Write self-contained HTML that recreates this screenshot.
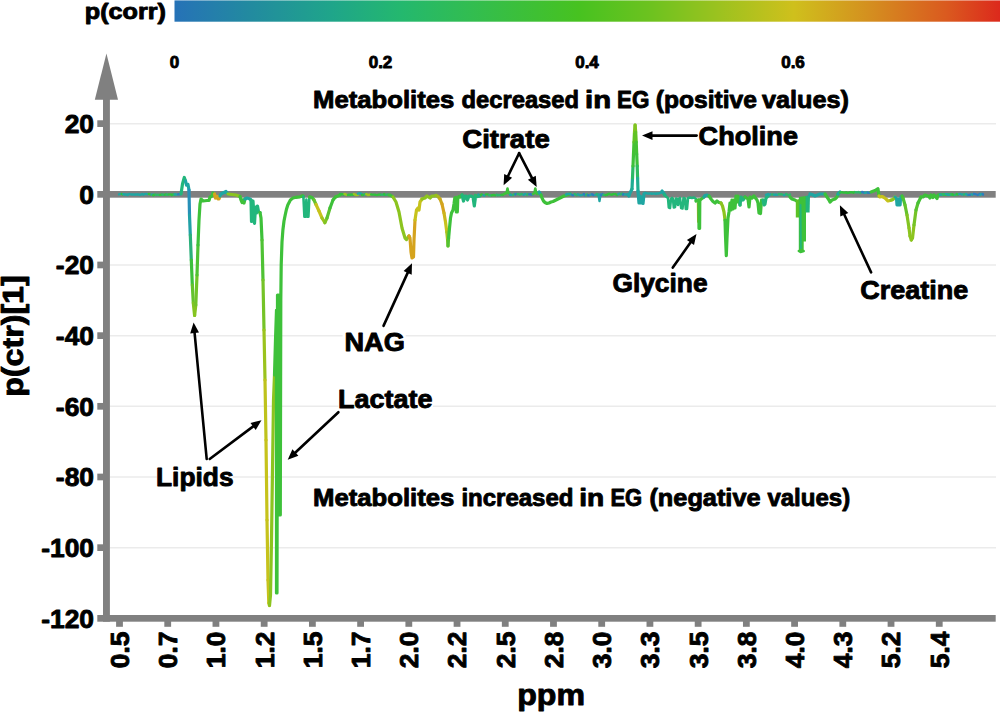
<!DOCTYPE html><html><head><meta charset="utf-8"><style>html,body{margin:0;padding:0;background:#fff;width:1000px;height:713px;overflow:hidden}svg{display:block}text{font-family:"Liberation Sans",sans-serif;font-weight:bold;fill:#000;stroke:#000;stroke-width:0.9px;stroke-linejoin:round}</style></head><body><svg width="1000" height="713" viewBox="0 0 1000 713"><defs><linearGradient id="cb" x1="0" y1="0" x2="1" y2="0"><stop offset="0.0" stop-color="#2672b7"/><stop offset="0.09" stop-color="#228aa0"/><stop offset="0.19" stop-color="#1fa58a"/><stop offset="0.275" stop-color="#24b86e"/><stop offset="0.36" stop-color="#32bd50"/><stop offset="0.49" stop-color="#47c220"/><stop offset="0.575" stop-color="#6cc21f"/><stop offset="0.66" stop-color="#9cc21f"/><stop offset="0.75" stop-color="#cfc01c"/><stop offset="0.84" stop-color="#d4901f"/><stop offset="0.935" stop-color="#da5a1f"/><stop offset="1.0" stop-color="#dc291c"/></linearGradient></defs><rect x="174.5" y="1" width="825.5" height="20.7" fill="url(#cb)"/><rect x="174.5" y="0" width="825.5" height="1" fill="url(#cb)" opacity="0.6"/><line x1="110" y1="123.63" x2="996" y2="123.63" stroke="#ebebeb" stroke-width="1.5"/><line x1="110" y1="264.97" x2="996" y2="264.97" stroke="#ebebeb" stroke-width="1.5"/><line x1="110" y1="335.64" x2="996" y2="335.64" stroke="#ebebeb" stroke-width="1.5"/><line x1="110" y1="406.31" x2="996" y2="406.31" stroke="#ebebeb" stroke-width="1.5"/><line x1="110" y1="476.98" x2="996" y2="476.98" stroke="#ebebeb" stroke-width="1.5"/><line x1="110" y1="547.65" x2="996" y2="547.65" stroke="#ebebeb" stroke-width="1.5"/><rect x="342.6" y="329" width="63.1" height="27" fill="#fff"/><rect x="338.4" y="386" width="94.6" height="26" fill="#fff"/><rect x="156.8" y="463" width="75.8" height="32" fill="#fff"/><rect x="97.3" y="191" width="898.4" height="6.7" fill="#808080"/><rect x="97.3" y="615" width="898.4" height="6.7" fill="#808080"/><rect x="103" y="99" width="6.9" height="522.7" fill="#808080"/><polygon points="106.45,53.4 94.8,99.8 118.0,99.8" fill="#808080"/><rect x="97.3" y="120.28" width="6" height="6.7" fill="#808080"/><rect x="97.3" y="261.62" width="6" height="6.7" fill="#808080"/><rect x="97.3" y="332.29" width="6" height="6.7" fill="#808080"/><rect x="97.3" y="402.96" width="6" height="6.7" fill="#808080"/><rect x="97.3" y="473.63" width="6" height="6.7" fill="#808080"/><rect x="97.3" y="544.30" width="6" height="6.7" fill="#808080"/><rect x="116.10" y="621" width="6.8" height="5.8" fill="#808080"/><rect x="164.32" y="621" width="6.8" height="5.8" fill="#808080"/><rect x="212.54" y="621" width="6.8" height="5.8" fill="#808080"/><rect x="260.76" y="621" width="6.8" height="5.8" fill="#808080"/><rect x="308.98" y="621" width="6.8" height="5.8" fill="#808080"/><rect x="357.20" y="621" width="6.8" height="5.8" fill="#808080"/><rect x="405.42" y="621" width="6.8" height="5.8" fill="#808080"/><rect x="453.64" y="621" width="6.8" height="5.8" fill="#808080"/><rect x="501.86" y="621" width="6.8" height="5.8" fill="#808080"/><rect x="550.08" y="621" width="6.8" height="5.8" fill="#808080"/><rect x="598.30" y="621" width="6.8" height="5.8" fill="#808080"/><rect x="646.52" y="621" width="6.8" height="5.8" fill="#808080"/><rect x="694.74" y="621" width="6.8" height="5.8" fill="#808080"/><rect x="742.96" y="621" width="6.8" height="5.8" fill="#808080"/><rect x="791.18" y="621" width="6.8" height="5.8" fill="#808080"/><rect x="839.40" y="621" width="6.8" height="5.8" fill="#808080"/><rect x="887.62" y="621" width="6.8" height="5.8" fill="#808080"/><rect x="935.84" y="621" width="6.8" height="5.8" fill="#808080"/><line x1="119.0" y1="194.3" x2="120.3" y2="193.9" stroke="#1fa7a4" stroke-width="2.4" stroke-linecap="round"/><line x1="121.7" y1="193.9" x2="122.6" y2="194.4" stroke="#30c23c" stroke-width="2.4" stroke-linecap="round"/><line x1="123.2" y1="194.1" x2="124.7" y2="194.5" stroke="#1fa7a4" stroke-width="2.4" stroke-linecap="round"/><line x1="125.3" y1="194.6" x2="126.9" y2="194.5" stroke="#1fa7a4" stroke-width="2.4" stroke-linecap="round"/><line x1="127.6" y1="195.0" x2="129.2" y2="193.9" stroke="#1fa7a4" stroke-width="2.4" stroke-linecap="round"/><line x1="130.6" y1="194.4" x2="131.8" y2="194.5" stroke="#1fa7a4" stroke-width="2.4" stroke-linecap="round"/><line x1="133.0" y1="194.5" x2="134.8" y2="194.6" stroke="#1fa7a4" stroke-width="2.4" stroke-linecap="round"/><line x1="135.7" y1="194.5" x2="137.3" y2="194.5" stroke="#1fa7a4" stroke-width="2.4" stroke-linecap="round"/><line x1="138.4" y1="194.4" x2="139.9" y2="194.9" stroke="#1fa7a4" stroke-width="2.4" stroke-linecap="round"/><line x1="140.9" y1="194.6" x2="142.1" y2="194.1" stroke="#1fa7a4" stroke-width="2.4" stroke-linecap="round"/><line x1="143.2" y1="194.7" x2="144.8" y2="194.1" stroke="#1fa7a4" stroke-width="2.4" stroke-linecap="round"/><line x1="146.3" y1="194.0" x2="147.3" y2="194.2" stroke="#1fa7a4" stroke-width="2.4" stroke-linecap="round"/><line x1="148.8" y1="193.9" x2="150.2" y2="194.5" stroke="#30c23c" stroke-width="2.4" stroke-linecap="round"/><line x1="151.6" y1="194.6" x2="153.0" y2="194.5" stroke="#1fa7a4" stroke-width="2.4" stroke-linecap="round"/><line x1="153.0" y1="195.3" x2="154.4" y2="194.8" stroke="#30c23c" stroke-width="2.4" stroke-linecap="round"/><line x1="155.7" y1="194.6" x2="156.6" y2="194.9" stroke="#2cb86c" stroke-width="2.4" stroke-linecap="round"/><line x1="157.9" y1="194.7" x2="159.3" y2="195.0" stroke="#2cb86c" stroke-width="2.4" stroke-linecap="round"/><line x1="159.9" y1="194.9" x2="161.4" y2="194.8" stroke="#30c23c" stroke-width="2.4" stroke-linecap="round"/><line x1="162.2" y1="194.5" x2="163.4" y2="194.7" stroke="#2cb86c" stroke-width="2.4" stroke-linecap="round"/><line x1="164.9" y1="194.7" x2="165.8" y2="194.5" stroke="#30c23c" stroke-width="2.4" stroke-linecap="round"/><line x1="166.5" y1="194.5" x2="167.9" y2="194.7" stroke="#2cb86c" stroke-width="2.4" stroke-linecap="round"/><line x1="168.9" y1="194.4" x2="170.9" y2="194.4" stroke="#30c23c" stroke-width="2.4" stroke-linecap="round"/><line x1="171.7" y1="195.2" x2="172.9" y2="194.4" stroke="#30c23c" stroke-width="2.4" stroke-linecap="round"/><line x1="173.7" y1="194.6" x2="174.7" y2="194.9" stroke="#2cb86c" stroke-width="2.4" stroke-linecap="round"/><line x1="175.0" y1="194.2" x2="176.8" y2="194.7" stroke="#1fa7a4" stroke-width="2.4" stroke-linecap="round"/><line x1="178.3" y1="194.2" x2="180.1" y2="194.2" stroke="#2a7fc0" stroke-width="2.4" stroke-linecap="round"/><polyline points="181.0,194.0 182.5,184.0 184.3,177.5 185.5,181.0" fill="none" stroke="#22b67c" stroke-width="3.2" stroke-linejoin="round" stroke-linecap="round"/><polyline points="185.5,181.0 186.5,185.0 188.0,184.5 189.0,190.0" fill="none" stroke="#1fa6a2" stroke-width="3.2" stroke-linejoin="round" stroke-linecap="round"/><line x1="189.0" y1="190.0" x2="189.5" y2="215.0" stroke="#2790b8" stroke-width="3.2" stroke-linecap="round"/><line x1="189.5" y1="215.0" x2="190.3" y2="235.0" stroke="#21a1a7" stroke-width="3.2" stroke-linecap="round"/><line x1="190.3" y1="235.0" x2="191.3" y2="260.0" stroke="#2bb07b" stroke-width="3.2" stroke-linecap="round"/><line x1="191.3" y1="260.0" x2="192.3" y2="285.0" stroke="#3dc03d" stroke-width="3.2" stroke-linecap="round"/><line x1="192.3" y1="285.0" x2="193.3" y2="303.0" stroke="#64c22d" stroke-width="3.2" stroke-linecap="round"/><line x1="193.3" y1="303.0" x2="194.6" y2="315.5" stroke="#80c423" stroke-width="3.2" stroke-linecap="round"/><line x1="194.6" y1="315.5" x2="195.8" y2="305.0" stroke="#86c421" stroke-width="3.2" stroke-linecap="round"/><line x1="195.8" y1="305.0" x2="197.0" y2="275.0" stroke="#70c329" stroke-width="3.2" stroke-linecap="round"/><line x1="197.0" y1="275.0" x2="198.0" y2="245.0" stroke="#4fc234" stroke-width="3.2" stroke-linecap="round"/><polyline points="198.0,245.0 199.0,220.0 200.0,204.0 201.0,199.0 203.0,201.0 207.0,200.5 209.0,200.5 210.0,197.0 212.0,196.0 213.0,193.0 214.5,194.0" fill="none" stroke="#3ec13a" stroke-width="3.2" stroke-linejoin="round" stroke-linecap="round"/><polyline points="214.5,194.0 215.5,198.0 217.0,196.5 218.0,199.0 219.0,199.0 220.0,196.0" fill="none" stroke="#d5a31d" stroke-width="3.2" stroke-linejoin="round" stroke-linecap="round"/><polyline points="220.0,196.0 221.0,194.0 223.0,193.0 226.0,191.5 228.0,194.0" fill="none" stroke="#1fa6a2" stroke-width="3.2" stroke-linejoin="round" stroke-linecap="round"/><polyline points="228.0,194.0 232.0,194.5 236.0,195.0 240.0,196.5" fill="none" stroke="#8cc41f" stroke-width="3.2" stroke-linejoin="round" stroke-linecap="round"/><polyline points="240.0,196.5 241.0,200.0 242.0,202.5 243.0,200.0 244.0,203.0 245.0,199.0" fill="none" stroke="#3ec13a" stroke-width="3.2" stroke-linejoin="round" stroke-linecap="round"/><polyline points="245.0,199.0 247.0,198.0 250.0,199.0 251.0,200.0" fill="none" stroke="#1fa6a2" stroke-width="3.2" stroke-linejoin="round" stroke-linecap="round"/><polyline points="251.0,200.0 251.5,221.5 252.5,201.0 253.0,201.0 254.5,223.5 255.5,207.0 256.5,213.0 257.5,206.0 258.5,211.5 260.0,212.5" fill="none" stroke="#22b67c" stroke-width="3.2" stroke-linejoin="round" stroke-linecap="round"/><polyline points="260.0,212.5 261.0,218.0 262.0,240.0" fill="none" stroke="#3ec13a" stroke-width="3.2" stroke-linejoin="round" stroke-linecap="round"/><line x1="262.0" y1="240.0" x2="263.0" y2="280.0" stroke="#4fc234" stroke-width="3.2" stroke-linecap="round"/><line x1="263.0" y1="280.0" x2="264.0" y2="330.0" stroke="#75c327" stroke-width="3.2" stroke-linecap="round"/><line x1="264.0" y1="330.0" x2="265.0" y2="380.0" stroke="#9bc31e" stroke-width="3.2" stroke-linecap="round"/><line x1="265.0" y1="380.0" x2="266.0" y2="440.0" stroke="#bec21c" stroke-width="3.2" stroke-linecap="round"/><line x1="266.0" y1="440.0" x2="267.0" y2="520.0" stroke="#c6c21c" stroke-width="3.2" stroke-linecap="round"/><line x1="267.0" y1="520.0" x2="268.0" y2="580.0" stroke="#c6c21c" stroke-width="3.2" stroke-linecap="round"/><line x1="268.0" y1="580.0" x2="268.8" y2="603.0" stroke="#c6c21c" stroke-width="3.2" stroke-linecap="round"/><line x1="268.8" y1="603.0" x2="269.5" y2="605.5" stroke="#c6c21c" stroke-width="3.2" stroke-linecap="round"/><polyline points="269.5,605.5 270.5,595.0 271.5,540.0 272.5,470.0 273.5,400.0 274.5,375.0" fill="none" stroke="#8cc41f" stroke-width="3.2" stroke-linejoin="round" stroke-linecap="round"/><polyline points="274.5,375.0 275.5,340.0 276.5,310.0 276.5,593.0 277.0,593.0 277.5,295.0 278.5,295.0 279.2,515.0 280.3,515.0 280.8,300.0 281.2,265.0 282.0,242.0 282.9,230.0 284.0,221.0 285.2,215.0 286.4,209.5 287.8,205.0 290.4,200.0 293.0,198.0 296.0,197.3 300.0,196.8 302.5,196.0" fill="none" stroke="#3ec13a" stroke-width="3.2" stroke-linejoin="round" stroke-linecap="round"/><polygon points="276.8,300.0 278.6,295.0 280.6,300.0 280.4,515.0 279.2,515.0 276.8,400.0" fill="#3ec13a"/><polyline points="302.5,196.0 303.4,196.5" fill="none" stroke="#3ec13a" stroke-width="3.2" stroke-linejoin="round" stroke-linecap="round"/><polyline points="303.4,196.5 304.4,216.8 305.3,216.8 306.4,199.5 307.3,216.8 308.4,216.8 309.4,197.0" fill="none" stroke="#22b67c" stroke-width="2.6" stroke-linejoin="round" stroke-linecap="round"/><polyline points="309.4,197.0 310.2,197.0" fill="none" stroke="#3ec13a" stroke-width="3.2" stroke-linejoin="round" stroke-linecap="round"/><polyline points="310.2,197.0 312.0,197.5 314.0,200.0" fill="none" stroke="#3ec13a" stroke-width="3.2" stroke-linejoin="round" stroke-linecap="round"/><line x1="314.0" y1="200.0" x2="316.0" y2="204.5" stroke="#66c131" stroke-width="3.2" stroke-linecap="round"/><line x1="316.0" y1="204.5" x2="319.0" y2="211.0" stroke="#c6c21c" stroke-width="3.2" stroke-linecap="round"/><line x1="319.0" y1="211.0" x2="322.0" y2="218.0" stroke="#c6c21c" stroke-width="3.2" stroke-linecap="round"/><line x1="322.0" y1="218.0" x2="324.9" y2="222.7" stroke="#9fc31e" stroke-width="3.2" stroke-linecap="round"/><line x1="324.9" y1="222.7" x2="327.0" y2="218.0" stroke="#80c423" stroke-width="3.2" stroke-linecap="round"/><line x1="327.0" y1="218.0" x2="330.0" y2="208.0" stroke="#5bc230" stroke-width="3.2" stroke-linecap="round"/><line x1="330.0" y1="208.0" x2="333.0" y2="200.0" stroke="#3ec13a" stroke-width="3.2" stroke-linecap="round"/><line x1="333.0" y1="200.0" x2="335.5" y2="197.0" stroke="#3ec13a" stroke-width="3.2" stroke-linecap="round"/><line x1="335.5" y1="197.0" x2="340.0" y2="195.0" stroke="#3ec13a" stroke-width="3.2" stroke-linecap="round"/><line x1="340.0" y1="194.0" x2="341.4" y2="194.2" stroke="#30c23c" stroke-width="2.4" stroke-linecap="round"/><line x1="342.1" y1="194.0" x2="343.4" y2="194.6" stroke="#30c23c" stroke-width="2.4" stroke-linecap="round"/><line x1="344.5" y1="193.9" x2="346.7" y2="194.9" stroke="#9cc41e" stroke-width="2.4" stroke-linecap="round"/><line x1="347.9" y1="195.0" x2="348.9" y2="194.6" stroke="#30c23c" stroke-width="2.4" stroke-linecap="round"/><line x1="350.0" y1="195.1" x2="350.9" y2="194.5" stroke="#30c23c" stroke-width="2.4" stroke-linecap="round"/><line x1="352.0" y1="194.8" x2="352.9" y2="194.8" stroke="#30c23c" stroke-width="2.4" stroke-linecap="round"/><line x1="354.0" y1="193.9" x2="355.8" y2="195.0" stroke="#9cc41e" stroke-width="2.4" stroke-linecap="round"/><line x1="356.9" y1="195.0" x2="357.9" y2="194.8" stroke="#9cc41e" stroke-width="2.4" stroke-linecap="round"/><line x1="358.0" y1="193.7" x2="359.7" y2="193.2" stroke="#1fa7a4" stroke-width="2.4" stroke-linecap="round"/><line x1="360.7" y1="193.5" x2="361.7" y2="193.8" stroke="#1fa7a4" stroke-width="2.4" stroke-linecap="round"/><line x1="362.0" y1="195.0" x2="363.1" y2="195.0" stroke="#30c23c" stroke-width="2.4" stroke-linecap="round"/><line x1="364.5" y1="194.4" x2="365.6" y2="194.0" stroke="#2cb86c" stroke-width="2.4" stroke-linecap="round"/><line x1="366.2" y1="194.2" x2="367.4" y2="194.7" stroke="#9cc41e" stroke-width="2.4" stroke-linecap="round"/><line x1="368.3" y1="195.1" x2="370.3" y2="194.4" stroke="#9cc41e" stroke-width="2.4" stroke-linecap="round"/><line x1="371.1" y1="194.4" x2="372.2" y2="194.6" stroke="#30c23c" stroke-width="2.4" stroke-linecap="round"/><line x1="373.8" y1="194.6" x2="375.4" y2="194.8" stroke="#30c23c" stroke-width="2.4" stroke-linecap="round"/><line x1="376.8" y1="195.1" x2="377.8" y2="194.9" stroke="#30c23c" stroke-width="2.4" stroke-linecap="round"/><line x1="379.1" y1="194.5" x2="380.6" y2="194.8" stroke="#30c23c" stroke-width="2.4" stroke-linecap="round"/><line x1="381.3" y1="194.6" x2="383.4" y2="194.9" stroke="#2cb86c" stroke-width="2.4" stroke-linecap="round"/><line x1="384.1" y1="194.0" x2="385.1" y2="194.7" stroke="#30c23c" stroke-width="2.4" stroke-linecap="round"/><line x1="386.2" y1="194.8" x2="387.9" y2="194.4" stroke="#2cb86c" stroke-width="2.4" stroke-linecap="round"/><line x1="389.0" y1="195.0" x2="390.0" y2="194.9" stroke="#30c23c" stroke-width="2.4" stroke-linecap="round"/><polyline points="389.0,195.0 390.0,195.0 393.0,197.0" fill="none" stroke="#3ec13a" stroke-width="3.2" stroke-linejoin="round" stroke-linecap="round"/><polyline points="393.0,197.0 396.0,202.0 399.0,212.0 402.0,228.0 405.0,238.0 406.5,239.5 409.0,236.0" fill="none" stroke="#8cc41f" stroke-width="3.2" stroke-linejoin="round" stroke-linecap="round"/><polyline points="409.0,236.0 410.0,238.0 411.0,252.0 412.0,258.0 413.5,257.0 414.0,240.0 415.0,220.0" fill="none" stroke="#d5a31d" stroke-width="3.2" stroke-linejoin="round" stroke-linecap="round"/><polyline points="415.0,220.0 416.5,210.0 418.0,208.0 419.0,210.0 420.0,202.0 422.0,199.0" fill="none" stroke="#c6c21c" stroke-width="3.2" stroke-linejoin="round" stroke-linecap="round"/><polyline points="422.0,199.0 425.0,198.0 427.0,196.0 430.0,198.0 432.0,196.0 434.0,196.0 436.0,195.5" fill="none" stroke="#8cc41f" stroke-width="3.2" stroke-linejoin="round" stroke-linecap="round"/><line x1="436.0" y1="195.5" x2="438.0" y2="196.5" stroke="#95c01f" stroke-width="3.2" stroke-linecap="round"/><line x1="438.0" y1="196.5" x2="440.0" y2="199.0" stroke="#aab71e" stroke-width="3.2" stroke-linecap="round"/><line x1="440.0" y1="199.0" x2="442.0" y2="204.0" stroke="#cba81d" stroke-width="3.2" stroke-linecap="round"/><line x1="442.0" y1="204.0" x2="444.0" y2="213.0" stroke="#d5a31d" stroke-width="3.2" stroke-linecap="round"/><line x1="444.0" y1="213.0" x2="445.5" y2="222.0" stroke="#ccb61c" stroke-width="3.2" stroke-linecap="round"/><line x1="445.5" y1="222.0" x2="446.8" y2="232.0" stroke="#c6c21c" stroke-width="3.2" stroke-linecap="round"/><line x1="446.8" y1="232.0" x2="447.6" y2="240.0" stroke="#a5c31e" stroke-width="3.2" stroke-linecap="round"/><line x1="447.6" y1="240.0" x2="448.0" y2="246.0" stroke="#7bc325" stroke-width="3.2" stroke-linecap="round"/><line x1="448.0" y1="246.0" x2="448.6" y2="238.0" stroke="#54c232" stroke-width="3.2" stroke-linecap="round"/><polyline points="448.6,238.0 449.5,228.0 450.5,218.0 451.5,213.0 453.0,210.0 454.0,204.0 454.8,198.0 455.8,197.5 456.3,212.0 457.3,212.0 457.8,198.0 459.0,196.5 460.0,197.0 462.0,195.0" fill="none" stroke="#3ec13a" stroke-width="3.2" stroke-linejoin="round" stroke-linecap="round"/><polyline points="462.0,195.0 463.5,201.0 465.0,196.0 466.0,196.0 467.5,200.0 469.0,196.0 471.0,196.0 473.0,197.0 474.3,206.0 475.5,197.0 480.0,196.0" fill="none" stroke="#22b67c" stroke-width="3.2" stroke-linejoin="round" stroke-linecap="round"/><line x1="475.0" y1="194.9" x2="476.8" y2="195.6" stroke="#2cb86c" stroke-width="2.4" stroke-linecap="round"/><line x1="478.3" y1="194.5" x2="479.4" y2="195.0" stroke="#1fa7a4" stroke-width="2.4" stroke-linecap="round"/><line x1="480.7" y1="194.9" x2="482.0" y2="194.4" stroke="#30c23c" stroke-width="2.4" stroke-linecap="round"/><line x1="483.5" y1="195.3" x2="484.8" y2="195.5" stroke="#1fa7a4" stroke-width="2.4" stroke-linecap="round"/><line x1="485.9" y1="194.4" x2="487.9" y2="194.4" stroke="#30c23c" stroke-width="2.4" stroke-linecap="round"/><line x1="489.0" y1="195.2" x2="491.0" y2="195.4" stroke="#2cb86c" stroke-width="2.4" stroke-linecap="round"/><line x1="491.8" y1="195.4" x2="492.8" y2="195.1" stroke="#30c23c" stroke-width="2.4" stroke-linecap="round"/><line x1="493.7" y1="195.0" x2="495.2" y2="195.4" stroke="#30c23c" stroke-width="2.4" stroke-linecap="round"/><line x1="496.7" y1="194.6" x2="497.6" y2="195.4" stroke="#2cb86c" stroke-width="2.4" stroke-linecap="round"/><line x1="498.7" y1="194.9" x2="500.3" y2="195.2" stroke="#2cb86c" stroke-width="2.4" stroke-linecap="round"/><line x1="501.4" y1="194.6" x2="502.9" y2="195.0" stroke="#30c23c" stroke-width="2.4" stroke-linecap="round"/><polyline points="504.0,194.0 506.5,193.0 507.5,188.5 508.5,193.0 510.0,194.0" fill="none" stroke="#3ec13a" stroke-width="2.6" stroke-linejoin="round" stroke-linecap="round"/><line x1="510.0" y1="194.8" x2="511.5" y2="195.0" stroke="#1fa7a4" stroke-width="2.4" stroke-linecap="round"/><line x1="513.1" y1="195.0" x2="514.2" y2="194.1" stroke="#2cb86c" stroke-width="2.4" stroke-linecap="round"/><line x1="515.3" y1="194.4" x2="516.6" y2="193.9" stroke="#2a7fc0" stroke-width="2.4" stroke-linecap="round"/><line x1="517.5" y1="194.2" x2="518.4" y2="194.0" stroke="#2cb86c" stroke-width="2.4" stroke-linecap="round"/><line x1="519.8" y1="194.7" x2="521.9" y2="194.0" stroke="#2cb86c" stroke-width="2.4" stroke-linecap="round"/><line x1="523.4" y1="194.8" x2="525.5" y2="193.9" stroke="#1fa7a4" stroke-width="2.4" stroke-linecap="round"/><line x1="527.0" y1="195.0" x2="528.0" y2="194.0" stroke="#2cb86c" stroke-width="2.4" stroke-linecap="round"/><line x1="529.1" y1="194.4" x2="530.6" y2="194.3" stroke="#2a7fc0" stroke-width="2.4" stroke-linecap="round"/><line x1="531.3" y1="194.6" x2="532.6" y2="194.4" stroke="#2a7fc0" stroke-width="2.4" stroke-linecap="round"/><polyline points="533.0,194.0 534.5,193.0 535.3,188.5 536.2,193.0 537.0,194.0 539.0,193.0" fill="none" stroke="#3ec13a" stroke-width="2.6" stroke-linejoin="round" stroke-linecap="round"/><polyline points="539.0,192.0 541.0,195.0" fill="none" stroke="#1fa6a2" stroke-width="3.2" stroke-linejoin="round" stroke-linecap="round"/><polyline points="541.0,195.0 542.0,198.0 543.5,201.0 545.0,202.5 547.0,203.5 549.0,203.0 551.0,202.0 553.0,201.5 555.0,200.5 558.0,199.0 561.0,197.5 564.0,196.0 567.0,195.0 570.0,194.0" fill="none" stroke="#3ec13a" stroke-width="3.2" stroke-linejoin="round" stroke-linecap="round"/><line x1="566.0" y1="194.6" x2="567.3" y2="193.9" stroke="#1fa7a4" stroke-width="2.4" stroke-linecap="round"/><line x1="568.8" y1="193.9" x2="570.8" y2="194.2" stroke="#1fa7a4" stroke-width="2.4" stroke-linecap="round"/><line x1="572.3" y1="195.1" x2="573.3" y2="195.2" stroke="#2a7fc0" stroke-width="2.4" stroke-linecap="round"/><line x1="574.6" y1="194.0" x2="576.7" y2="195.3" stroke="#2cb86c" stroke-width="2.4" stroke-linecap="round"/><line x1="577.9" y1="194.2" x2="579.7" y2="195.1" stroke="#1fa7a4" stroke-width="2.4" stroke-linecap="round"/><line x1="580.4" y1="195.3" x2="582.5" y2="194.8" stroke="#1fa7a4" stroke-width="2.4" stroke-linecap="round"/><line x1="583.9" y1="193.9" x2="584.8" y2="195.2" stroke="#2a7fc0" stroke-width="2.4" stroke-linecap="round"/><line x1="585.9" y1="195.3" x2="587.1" y2="194.2" stroke="#2cb86c" stroke-width="2.4" stroke-linecap="round"/><line x1="587.9" y1="195.3" x2="589.4" y2="195.4" stroke="#2a7fc0" stroke-width="2.4" stroke-linecap="round"/><line x1="590.3" y1="194.8" x2="591.3" y2="194.6" stroke="#1fa7a4" stroke-width="2.4" stroke-linecap="round"/><line x1="592.1" y1="194.2" x2="593.6" y2="195.1" stroke="#2a7fc0" stroke-width="2.4" stroke-linecap="round"/><line x1="595.2" y1="195.0" x2="596.0" y2="194.7" stroke="#1fa7a4" stroke-width="2.4" stroke-linecap="round"/><line x1="596.8" y1="194.0" x2="598.0" y2="195.1" stroke="#2cb86c" stroke-width="2.4" stroke-linecap="round"/><polyline points="598.5,194.5 599.5,201.0 600.5,194.5" fill="none" stroke="#1fa6a2" stroke-width="2.4" stroke-linejoin="round" stroke-linecap="round"/><line x1="601.0" y1="195.2" x2="602.5" y2="194.1" stroke="#2a7fc0" stroke-width="2.4" stroke-linecap="round"/><line x1="603.3" y1="194.9" x2="604.4" y2="194.7" stroke="#2cb86c" stroke-width="2.4" stroke-linecap="round"/><line x1="605.7" y1="195.2" x2="607.0" y2="194.9" stroke="#30c23c" stroke-width="2.4" stroke-linecap="round"/><line x1="607.6" y1="194.3" x2="609.3" y2="193.7" stroke="#30c23c" stroke-width="2.4" stroke-linecap="round"/><line x1="610.6" y1="194.6" x2="611.9" y2="194.7" stroke="#30c23c" stroke-width="2.4" stroke-linecap="round"/><line x1="612.6" y1="194.3" x2="613.6" y2="194.0" stroke="#30c23c" stroke-width="2.4" stroke-linecap="round"/><line x1="615.2" y1="194.0" x2="617.3" y2="195.1" stroke="#30c23c" stroke-width="2.4" stroke-linecap="round"/><line x1="618.3" y1="194.1" x2="619.6" y2="193.7" stroke="#1fa7a4" stroke-width="2.4" stroke-linecap="round"/><line x1="620.4" y1="194.4" x2="622.2" y2="193.6" stroke="#2cb86c" stroke-width="2.4" stroke-linecap="round"/><line x1="623.0" y1="194.5" x2="623.9" y2="194.2" stroke="#2a7fc0" stroke-width="2.4" stroke-linecap="round"/><line x1="624.8" y1="194.5" x2="626.5" y2="194.4" stroke="#1fa7a4" stroke-width="2.4" stroke-linecap="round"/><line x1="627.9" y1="194.8" x2="628.0" y2="194.8" stroke="#2a7fc0" stroke-width="2.4" stroke-linecap="round"/><polyline points="628.0,194.5 629.0,196.0 630.0,193.0 632.0,189.0" fill="none" stroke="#1fa6a2" stroke-width="3.2" stroke-linejoin="round" stroke-linecap="round"/><line x1="632.0" y1="189.0" x2="632.5" y2="178.0" stroke="#20ad92" stroke-width="3.2" stroke-linecap="round"/><line x1="632.5" y1="178.0" x2="633.0" y2="166.0" stroke="#2bba66" stroke-width="3.2" stroke-linecap="round"/><line x1="633.0" y1="166.0" x2="633.5" y2="154.0" stroke="#3ec13a" stroke-width="3.2" stroke-linecap="round"/><line x1="633.5" y1="154.0" x2="634.0" y2="142.0" stroke="#44c135" stroke-width="3.2" stroke-linecap="round"/><line x1="634.0" y1="142.0" x2="634.5" y2="132.0" stroke="#60c224" stroke-width="3.2" stroke-linecap="round"/><line x1="634.5" y1="132.0" x2="635.1" y2="125.2" stroke="#7fc320" stroke-width="3.2" stroke-linecap="round"/><line x1="635.1" y1="125.2" x2="635.7" y2="132.0" stroke="#80c320" stroke-width="3.2" stroke-linecap="round"/><line x1="635.7" y1="132.0" x2="636.2" y2="142.0" stroke="#61c223" stroke-width="3.2" stroke-linecap="round"/><line x1="636.2" y1="142.0" x2="636.7" y2="154.0" stroke="#46c134" stroke-width="3.2" stroke-linecap="round"/><line x1="636.7" y1="154.0" x2="637.2" y2="166.0" stroke="#3ec13a" stroke-width="3.2" stroke-linecap="round"/><line x1="637.2" y1="166.0" x2="637.6" y2="178.0" stroke="#2ebb5f" stroke-width="3.2" stroke-linecap="round"/><line x1="637.6" y1="178.0" x2="638.0" y2="191.0" stroke="#20ae8f" stroke-width="3.2" stroke-linecap="round"/><polyline points="638.0,191.0 639.0,203.0 640.0,196.0 641.0,203.0 642.0,197.0 643.0,203.5 644.0,194.0" fill="none" stroke="#1fa6a2" stroke-width="3.2" stroke-linejoin="round" stroke-linecap="round"/><line x1="644.0" y1="193.5" x2="645.2" y2="192.7" stroke="#1fa7a4" stroke-width="2.4" stroke-linecap="round"/><line x1="646.6" y1="193.2" x2="648.7" y2="193.6" stroke="#1fa7a4" stroke-width="2.4" stroke-linecap="round"/><line x1="649.8" y1="193.4" x2="651.9" y2="193.7" stroke="#1fa7a4" stroke-width="2.4" stroke-linecap="round"/><line x1="652.5" y1="193.6" x2="654.2" y2="193.6" stroke="#1fa7a4" stroke-width="2.4" stroke-linecap="round"/><line x1="655.1" y1="193.5" x2="655.9" y2="193.9" stroke="#1fa7a4" stroke-width="2.4" stroke-linecap="round"/><line x1="656.9" y1="193.5" x2="658.3" y2="193.5" stroke="#1fa7a4" stroke-width="2.4" stroke-linecap="round"/><line x1="659.6" y1="193.2" x2="661.1" y2="192.7" stroke="#1fa7a4" stroke-width="2.4" stroke-linecap="round"/><polyline points="662.0,191.0 665.0,195.0" fill="none" stroke="#1fa6a2" stroke-width="3.2" stroke-linejoin="round" stroke-linecap="round"/><polyline points="664.0,194.5 666.0,196.5 668.0,198.0 668.8,207.5 670.0,208.0 671.0,199.0 672.0,198.0 673.0,199.0 673.8,207.5 675.0,207.0 676.0,198.5 677.0,199.0 678.0,205.0 678.8,199.0 680.0,198.0 681.2,208.0 682.5,208.5 683.5,198.0 685.0,198.5 685.8,209.0 687.0,209.0 688.0,198.0 690.0,197.5 692.0,198.0 694.0,197.5 696.0,199.0 696.0,201.0" fill="none" stroke="#22b67c" stroke-width="2.6" stroke-linejoin="round" stroke-linecap="round"/><polyline points="696.0,201.0 698.3,200.0" fill="none" stroke="#3ec13a" stroke-width="3.2" stroke-linejoin="round" stroke-linecap="round"/><polyline points="697.6,203.0 697.8,222.0" fill="none" stroke="#d5a31d" stroke-width="1.6" stroke-linejoin="round" stroke-linecap="round"/><polyline points="698.6,200.0 698.8,228.5 699.8,228.5 700.0,200.0" fill="none" stroke="#3ec13a" stroke-width="2.8" stroke-linejoin="round" stroke-linecap="round"/><polyline points="700.0,200.0 702.0,198.5 704.0,197.0" fill="none" stroke="#3ec13a" stroke-width="3.2" stroke-linejoin="round" stroke-linecap="round"/><polyline points="704.0,197.0 705.0,195.5 707.0,195.0 709.0,196.0" fill="none" stroke="#1fa6a2" stroke-width="3.2" stroke-linejoin="round" stroke-linecap="round"/><polyline points="709.0,196.0 711.0,199.0 713.0,201.5 715.0,203.0 717.0,201.0 719.0,202.5 721.0,203.0" fill="none" stroke="#3ec13a" stroke-width="3.2" stroke-linejoin="round" stroke-linecap="round"/><polyline points="721.0,203.0 722.5,206.0 724.0,212.0 725.0,220.0" fill="none" stroke="#8cc41f" stroke-width="3.2" stroke-linejoin="round" stroke-linecap="round"/><polyline points="725.0,220.0 725.5,236.0 726.3,255.7 727.0,238.0 728.0,218.0 729.0,212.0 730.0,203.0 731.0,210.0 732.0,200.0 733.0,209.0 734.0,200.0 735.0,208.0 736.0,196.0 737.0,202.0 738.0,196.0 740.0,205.0" fill="none" stroke="#3ec13a" stroke-width="3.2" stroke-linejoin="round" stroke-linecap="round"/><polyline points="740.0,205.0 741.0,197.0 743.0,200.0 745.0,197.0" fill="none" stroke="#22b67c" stroke-width="3.2" stroke-linejoin="round" stroke-linecap="round"/><polyline points="745.0,197.0 748.0,199.0 749.0,207.0 750.0,197.0 752.0,198.0 754.0,196.0 757.0,200.0 758.0,203.0 759.0,213.0 760.5,213.5 761.5,200.0 763.0,200.0" fill="none" stroke="#3ec13a" stroke-width="3.2" stroke-linejoin="round" stroke-linecap="round"/><polyline points="763.0,200.0 764.0,205.0 765.0,204.0 766.0,198.0 768.0,196.0" fill="none" stroke="#22b67c" stroke-width="3.2" stroke-linejoin="round" stroke-linecap="round"/><line x1="766.0" y1="194.8" x2="768.1" y2="194.0" stroke="#1fa7a4" stroke-width="2.4" stroke-linecap="round"/><line x1="769.4" y1="195.1" x2="770.5" y2="194.2" stroke="#1fa7a4" stroke-width="2.4" stroke-linecap="round"/><line x1="771.9" y1="194.6" x2="773.0" y2="194.4" stroke="#2cb86c" stroke-width="2.4" stroke-linecap="round"/><line x1="774.1" y1="194.8" x2="775.9" y2="194.8" stroke="#1fa7a4" stroke-width="2.4" stroke-linecap="round"/><line x1="776.5" y1="194.8" x2="777.5" y2="194.9" stroke="#1fa7a4" stroke-width="2.4" stroke-linecap="round"/><line x1="778.8" y1="194.0" x2="779.8" y2="194.3" stroke="#2cb86c" stroke-width="2.4" stroke-linecap="round"/><line x1="781.0" y1="194.3" x2="782.8" y2="194.6" stroke="#2cb86c" stroke-width="2.4" stroke-linecap="round"/><line x1="783.9" y1="195.3" x2="785.3" y2="194.7" stroke="#1fa7a4" stroke-width="2.4" stroke-linecap="round"/><line x1="786.2" y1="193.9" x2="787.1" y2="194.5" stroke="#2cb86c" stroke-width="2.4" stroke-linecap="round"/><line x1="788.6" y1="195.3" x2="790.0" y2="194.4" stroke="#2cb86c" stroke-width="2.4" stroke-linecap="round"/><polyline points="790.0,197.0 792.0,199.0 795.0,200.0 796.5,201.0" fill="none" stroke="#3ec13a" stroke-width="3.2" stroke-linejoin="round" stroke-linecap="round"/><polygon points="795.8,200.0 799.3,199.0 799.3,217.5 795.8,217.5" fill="#5cc224"/><polygon points="798.8,197.0 806.0,196.0 806.0,241.6 803.7,241.6 803.7,251.0 798.8,251.0" fill="#3ec13a"/><polygon points="805.6,196.0 810.0,195.0 809.6,212.6 805.6,212.6" fill="#22b67c"/><polyline points="800.5,205.0 800.8,248.0" fill="none" stroke="#22b67c" stroke-width="2.0" stroke-linejoin="round" stroke-linecap="round"/><polyline points="798.8,251.0 800.5,252.0 803.7,251.0" fill="none" stroke="#3ec13a" stroke-width="2.5" stroke-linejoin="round" stroke-linecap="round"/><polyline points="809.0,196.0 810.0,194.0" fill="none" stroke="#1fa6a2" stroke-width="2.2" stroke-linejoin="round" stroke-linecap="round"/><polyline points="810.0,194.0 812.0,194.5 815.0,196.0 820.0,194.0 825.0,194.0" fill="none" stroke="#1fa6a2" stroke-width="3.2" stroke-linejoin="round" stroke-linecap="round"/><polyline points="825.0,194.0 827.0,197.0 829.0,200.0 830.0,202.0 832.0,200.0 835.0,199.0 837.0,197.0 838.0,194.0" fill="none" stroke="#3ec13a" stroke-width="3.2" stroke-linejoin="round" stroke-linecap="round"/><polyline points="838.0,194.0 840.0,192.0" fill="none" stroke="#1fa6a2" stroke-width="3.2" stroke-linejoin="round" stroke-linecap="round"/><line x1="840.0" y1="192.6" x2="842.1" y2="192.1" stroke="#30c23c" stroke-width="2.4" stroke-linecap="round"/><line x1="843.2" y1="192.6" x2="845.4" y2="192.6" stroke="#30c23c" stroke-width="2.4" stroke-linecap="round"/><line x1="846.2" y1="192.2" x2="847.2" y2="192.9" stroke="#30c23c" stroke-width="2.4" stroke-linecap="round"/><line x1="848.3" y1="192.9" x2="849.1" y2="192.7" stroke="#30c23c" stroke-width="2.4" stroke-linecap="round"/><line x1="850.1" y1="192.3" x2="851.9" y2="192.3" stroke="#30c23c" stroke-width="2.4" stroke-linecap="round"/><line x1="853.4" y1="192.8" x2="854.2" y2="192.1" stroke="#30c23c" stroke-width="2.4" stroke-linecap="round"/><line x1="855.7" y1="192.3" x2="857.5" y2="192.4" stroke="#2cb86c" stroke-width="2.4" stroke-linecap="round"/><line x1="858.5" y1="192.1" x2="860.7" y2="192.9" stroke="#2cb86c" stroke-width="2.4" stroke-linecap="round"/><line x1="862.0" y1="192.0" x2="864.0" y2="192.7" stroke="#2a7fc0" stroke-width="2.4" stroke-linecap="round"/><line x1="864.9" y1="192.9" x2="867.0" y2="192.3" stroke="#1fa7a4" stroke-width="2.4" stroke-linecap="round"/><line x1="867.9" y1="192.8" x2="869.8" y2="192.7" stroke="#2a7fc0" stroke-width="2.4" stroke-linecap="round"/><polyline points="871.0,192.0 875.0,190.5 878.0,188.7 879.0,196.0" fill="none" stroke="#3ec13a" stroke-width="3.2" stroke-linejoin="round" stroke-linecap="round"/><polyline points="879.0,196.0 880.0,197.0 882.0,196.5 884.0,197.5 886.0,199.0 888.0,201.0 890.0,200.5 892.0,200.0" fill="none" stroke="#c6c21c" stroke-width="3.2" stroke-linejoin="round" stroke-linecap="round"/><polyline points="891.0,200.0 893.0,199.5 895.0,197.0" fill="none" stroke="#8cc41f" stroke-width="3.2" stroke-linejoin="round" stroke-linecap="round"/><polyline points="895.0,197.0 896.3,198.0 896.8,205.0 898.2,205.0 898.6,199.0 899.2,205.0 900.3,205.0 900.8,196.5 902.0,196.0" fill="none" stroke="#1fa6a2" stroke-width="2.8" stroke-linejoin="round" stroke-linecap="round"/><line x1="902.0" y1="196.0" x2="903.0" y2="198.0" stroke="#41c139" stroke-width="3.2" stroke-linecap="round"/><line x1="903.0" y1="198.0" x2="905.0" y2="205.0" stroke="#4dc235" stroke-width="3.2" stroke-linecap="round"/><line x1="905.0" y1="205.0" x2="907.0" y2="215.0" stroke="#64c22d" stroke-width="3.2" stroke-linecap="round"/><line x1="907.0" y1="215.0" x2="909.0" y2="228.0" stroke="#83c422" stroke-width="3.2" stroke-linecap="round"/><line x1="909.0" y1="228.0" x2="910.0" y2="236.0" stroke="#8cc41f" stroke-width="3.2" stroke-linecap="round"/><line x1="910.0" y1="236.0" x2="911.3" y2="240.0" stroke="#8cc41f" stroke-width="3.2" stroke-linecap="round"/><line x1="911.3" y1="240.0" x2="912.5" y2="238.0" stroke="#8cc41f" stroke-width="3.2" stroke-linecap="round"/><line x1="912.5" y1="238.0" x2="914.0" y2="225.0" stroke="#8cc41f" stroke-width="3.2" stroke-linecap="round"/><line x1="914.0" y1="225.0" x2="916.0" y2="210.0" stroke="#76c327" stroke-width="3.2" stroke-linecap="round"/><line x1="916.0" y1="210.0" x2="918.0" y2="203.0" stroke="#59c231" stroke-width="3.2" stroke-linecap="round"/><line x1="918.0" y1="203.0" x2="921.0" y2="197.0" stroke="#47c137" stroke-width="3.2" stroke-linecap="round"/><polyline points="921.0,197.0 923.0,197.0 925.0,195.0 929.0,196.5 930.0,198.0 931.0,195.0 933.0,197.5 934.0,195.0 937.0,198.5 938.0,195.0 940.0,194.5 952.0,194.5" fill="none" stroke="#3ec13a" stroke-width="3.2" stroke-linejoin="round" stroke-linecap="round"/><line x1="940.0" y1="194.6" x2="942.1" y2="194.8" stroke="#1fa7a4" stroke-width="2.4" stroke-linecap="round"/><line x1="942.7" y1="194.6" x2="944.6" y2="194.1" stroke="#2cb86c" stroke-width="2.4" stroke-linecap="round"/><line x1="946.0" y1="194.1" x2="947.5" y2="194.5" stroke="#1fa7a4" stroke-width="2.4" stroke-linecap="round"/><line x1="948.4" y1="194.8" x2="949.7" y2="194.7" stroke="#1fa7a4" stroke-width="2.4" stroke-linecap="round"/><line x1="950.7" y1="194.6" x2="951.8" y2="194.4" stroke="#2cb86c" stroke-width="2.4" stroke-linecap="round"/><line x1="952.6" y1="194.5" x2="953.6" y2="194.9" stroke="#30c23c" stroke-width="2.4" stroke-linecap="round"/><line x1="954.7" y1="195.1" x2="956.2" y2="194.4" stroke="#2cb86c" stroke-width="2.4" stroke-linecap="round"/><line x1="956.9" y1="194.1" x2="958.0" y2="194.6" stroke="#30c23c" stroke-width="2.4" stroke-linecap="round"/><line x1="958.9" y1="194.1" x2="960.2" y2="193.9" stroke="#1fa7a4" stroke-width="2.4" stroke-linecap="round"/><line x1="961.7" y1="194.5" x2="963.0" y2="194.4" stroke="#1fa7a4" stroke-width="2.4" stroke-linecap="round"/><line x1="964.0" y1="194.6" x2="964.9" y2="194.3" stroke="#2cb86c" stroke-width="2.4" stroke-linecap="round"/><line x1="966.0" y1="193.9" x2="967.5" y2="194.9" stroke="#1fa7a4" stroke-width="2.4" stroke-linecap="round"/><line x1="968.5" y1="194.9" x2="970.2" y2="194.8" stroke="#2a7fc0" stroke-width="2.4" stroke-linecap="round"/><line x1="971.7" y1="194.3" x2="972.5" y2="194.7" stroke="#1fa7a4" stroke-width="2.4" stroke-linecap="round"/><line x1="973.9" y1="193.8" x2="976.1" y2="194.3" stroke="#2a7fc0" stroke-width="2.4" stroke-linecap="round"/><line x1="977.6" y1="195.0" x2="979.6" y2="194.1" stroke="#2a7fc0" stroke-width="2.4" stroke-linecap="round"/><line x1="980.3" y1="195.0" x2="981.3" y2="193.9" stroke="#1fa7a4" stroke-width="2.4" stroke-linecap="round"/><line x1="982.7" y1="193.9" x2="983.0" y2="194.7" stroke="#2a7fc0" stroke-width="2.4" stroke-linecap="round"/><line x1="519.1" y1="153.2" x2="507.7" y2="176.7" stroke="#000" stroke-width="2.6" stroke-linecap="round"/><polygon points="503.6,185.3 504.2,173.9 512.1,177.8" fill="#000"/><line x1="519.1" y1="153.2" x2="532.3" y2="178.6" stroke="#000" stroke-width="2.6" stroke-linecap="round"/><polygon points="536.7,187.0 527.9,179.7 535.8,175.7" fill="#000"/><line x1="696.6" y1="135.6" x2="651.5" y2="135.6" stroke="#000" stroke-width="2.6" stroke-linecap="round"/><polygon points="642.0,135.6 652.5,131.2 652.5,140.0" fill="#000"/><line x1="672.8" y1="267.6" x2="691.0" y2="241.8" stroke="#000" stroke-width="2.6" stroke-linecap="round"/><polygon points="696.5,234.0 694.0,245.1 686.9,240.0" fill="#000"/><line x1="871.1" y1="272.4" x2="843.9" y2="213.8" stroke="#000" stroke-width="2.6" stroke-linecap="round"/><polygon points="839.9,205.2 848.3,212.9 840.3,216.6" fill="#000"/><line x1="383.5" y1="325.9" x2="408.1" y2="271.9" stroke="#000" stroke-width="2.6" stroke-linecap="round"/><polygon points="412.0,263.3 411.7,274.7 403.6,271.0" fill="#000"/><line x1="338.4" y1="412.2" x2="294.6" y2="453.2" stroke="#000" stroke-width="2.6" stroke-linecap="round"/><polygon points="287.7,459.7 292.4,449.3 298.4,455.7" fill="#000"/><line x1="206.7" y1="459.0" x2="194.5" y2="332.0" stroke="#000" stroke-width="2.6" stroke-linecap="round"/><polygon points="193.6,322.5 199.0,332.5 190.2,333.4" fill="#000"/><line x1="209.7" y1="459.0" x2="253.9" y2="425.9" stroke="#000" stroke-width="2.6" stroke-linecap="round"/><polygon points="261.5,420.2 255.7,430.0 250.5,423.0" fill="#000"/><text x="313.0" y="107.6" font-size="24.6" text-anchor="start" textLength="141.4" lengthAdjust="spacingAndGlyphs">Metabolites</text><text x="461.6" y="107.6" font-size="24.6" text-anchor="start" textLength="117.4" lengthAdjust="spacingAndGlyphs">decreased</text><text x="585.0" y="107.6" font-size="24.6" text-anchor="start" textLength="26.0" lengthAdjust="spacingAndGlyphs">in</text><text x="617.0" y="107.6" font-size="24.6" text-anchor="start" textLength="32.4" lengthAdjust="spacingAndGlyphs">EG</text><text x="655.8" y="107.6" font-size="24.6" text-anchor="start" textLength="101.2" lengthAdjust="spacingAndGlyphs">(positive</text><text x="762.0" y="107.6" font-size="24.6" text-anchor="start" textLength="86.8" lengthAdjust="spacingAndGlyphs">values)</text><text x="313.0" y="506.2" font-size="24.6" text-anchor="start" textLength="141.4" lengthAdjust="spacingAndGlyphs">Metabolites</text><text x="461.4" y="506.2" font-size="24.6" text-anchor="start" textLength="112.0" lengthAdjust="spacingAndGlyphs">increased</text><text x="579.2" y="506.2" font-size="24.6" text-anchor="start" textLength="25.0" lengthAdjust="spacingAndGlyphs">in</text><text x="610.4" y="506.2" font-size="24.6" text-anchor="start" textLength="31.8" lengthAdjust="spacingAndGlyphs">EG</text><text x="649.4" y="506.2" font-size="24.6" text-anchor="start" textLength="111.2" lengthAdjust="spacingAndGlyphs">(negative</text><text x="767.4" y="506.2" font-size="24.6" text-anchor="start" textLength="82.8" lengthAdjust="spacingAndGlyphs">values)</text><text x="84.8" y="19.0" font-size="22.6" text-anchor="start" textLength="81.2" lengthAdjust="spacingAndGlyphs">p(corr)</text><text x="462.2" y="147.6" font-size="26.5" text-anchor="start" textLength="87.6" lengthAdjust="spacingAndGlyphs">Citrate</text><text x="698.6" y="145.0" font-size="26.5" text-anchor="start" textLength="99.4" lengthAdjust="spacingAndGlyphs">Choline</text><text x="612.4" y="292.4" font-size="26.5" text-anchor="start" textLength="95.2" lengthAdjust="spacingAndGlyphs">Glycine</text><text x="860.2" y="298.8" font-size="26.5" text-anchor="start" textLength="108.2" lengthAdjust="spacingAndGlyphs">Creatine</text><text x="344.4" y="351.1" font-size="26.5" text-anchor="start" textLength="60.4" lengthAdjust="spacingAndGlyphs">NAG</text><text x="338.0" y="407.8" font-size="26.5" text-anchor="start" textLength="94.6" lengthAdjust="spacingAndGlyphs">Lactate</text><text x="156.0" y="486.2" font-size="26.5" text-anchor="start" textLength="77.6" lengthAdjust="spacingAndGlyphs">Lipids</text><text x="517.2" y="705.2" font-size="30.0" text-anchor="start" textLength="67.8" lengthAdjust="spacingAndGlyphs">ppm</text><text x="174.5" y="68.4" font-size="17" text-anchor="middle">0</text><text x="380.5" y="68.4" font-size="17" text-anchor="middle">0.2</text><text x="587.0" y="68.4" font-size="17" text-anchor="middle">0.4</text><text x="793.0" y="68.4" font-size="17" text-anchor="middle">0.6</text><text x="94.0" y="133.0" font-size="26.4" text-anchor="end">20</text><text x="94.0" y="203.7" font-size="26.4" text-anchor="end">0</text><text x="94.0" y="274.4" font-size="26.4" text-anchor="end">-20</text><text x="94.0" y="345.0" font-size="26.4" text-anchor="end">-40</text><text x="94.0" y="415.7" font-size="26.4" text-anchor="end">-60</text><text x="94.0" y="486.4" font-size="26.4" text-anchor="end">-80</text><text x="94.0" y="557.1" font-size="26.4" text-anchor="end">-100</text><text x="94.0" y="627.7" font-size="26.4" text-anchor="end">-120</text><text x="0" y="0" font-size="26.4" text-anchor="end" transform="translate(128.90,631.5) rotate(-90)">0.5</text><text x="0" y="0" font-size="26.4" text-anchor="end" transform="translate(177.12,631.5) rotate(-90)">0.7</text><text x="0" y="0" font-size="26.4" text-anchor="end" transform="translate(225.34,631.5) rotate(-90)">1.0</text><text x="0" y="0" font-size="26.4" text-anchor="end" transform="translate(273.56,631.5) rotate(-90)">1.2</text><text x="0" y="0" font-size="26.4" text-anchor="end" transform="translate(321.78,631.5) rotate(-90)">1.5</text><text x="0" y="0" font-size="26.4" text-anchor="end" transform="translate(370.00,631.5) rotate(-90)">1.7</text><text x="0" y="0" font-size="26.4" text-anchor="end" transform="translate(418.22,631.5) rotate(-90)">2.0</text><text x="0" y="0" font-size="26.4" text-anchor="end" transform="translate(466.44,631.5) rotate(-90)">2.2</text><text x="0" y="0" font-size="26.4" text-anchor="end" transform="translate(514.66,631.5) rotate(-90)">2.5</text><text x="0" y="0" font-size="26.4" text-anchor="end" transform="translate(562.88,631.5) rotate(-90)">2.8</text><text x="0" y="0" font-size="26.4" text-anchor="end" transform="translate(611.10,631.5) rotate(-90)">3.0</text><text x="0" y="0" font-size="26.4" text-anchor="end" transform="translate(659.32,631.5) rotate(-90)">3.3</text><text x="0" y="0" font-size="26.4" text-anchor="end" transform="translate(707.54,631.5) rotate(-90)">3.5</text><text x="0" y="0" font-size="26.4" text-anchor="end" transform="translate(755.76,631.5) rotate(-90)">3.8</text><text x="0" y="0" font-size="26.4" text-anchor="end" transform="translate(803.98,631.5) rotate(-90)">4.0</text><text x="0" y="0" font-size="26.4" text-anchor="end" transform="translate(852.20,631.5) rotate(-90)">4.3</text><text x="0" y="0" font-size="26.4" text-anchor="end" transform="translate(900.42,631.5) rotate(-90)">5.2</text><text x="0" y="0" font-size="26.4" text-anchor="end" transform="translate(948.64,631.5) rotate(-90)">5.4</text><text x="0" y="0" font-size="30" textLength="121.5" lengthAdjust="spacingAndGlyphs" transform="translate(23.2,396.8) rotate(-90)">p(ctr)[1]</text></svg></body></html>
